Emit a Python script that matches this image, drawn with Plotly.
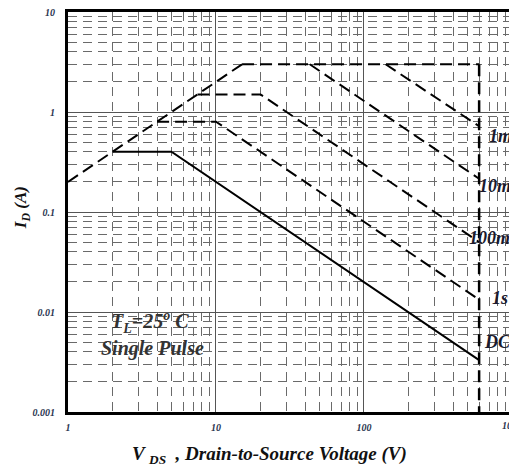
import math
import plotly.graph_objects as go

# ---- data (SOA curves) ----
v_rds = [1, 15]
i_rds = [0.2, 3]

v_top = [15, 600]
i_top = [3, 3]

v_bv = [600, 600]
i_bv = [3, 0.001]

v_1ms = [140, 600]
i_1ms = [3, 0.72]

v_10ms = [43, 600]
i_10ms = [3, 0.215]

v_100ms = [7.5, 20, 600]
i_100ms = [1.5, 1.5, 0.05]

v_1s = [4, 10, 600]
i_1s = [0.8, 0.8, 0.0133]

v_dc = [2, 5, 600]
i_dc = [0.4, 0.4, 0.0033]

y_tickvals = [0.001, 0.01, 0.1, 1, 10]
y_ticktext = ["0.001", "0.01", "0.1", "1", "10"]
x_tickvals = [1, 10, 100]
x_ticktext = ["1", "10", "100"]

curve_labels = ["1ms", "10ms", "100ms", "1s", "DC"]
label_x = [677, 580, 497, 710, 627]
label_y = [0.575, 0.182, 0.055, 0.0138, 0.005]

FONT = "Liberation Serif"
DASH = "12px,6px"

fig = go.Figure()

def add(x, y, dash=DASH, width=2):
    fig.add_trace(go.Scatter(x=x, y=y, mode="lines",
                             line=dict(color="black", width=width, dash=dash),
                             showlegend=False, hoverinfo="skip"))

add(v_rds, i_rds)
add(v_top, i_top)
add(v_bv, i_bv, width=2.5)
add(v_1ms, i_1ms)
add(v_10ms, i_10ms)
add(v_100ms, i_100ms)
add(v_1s, i_1s)
add(v_dc, i_dc, dash="solid")

minor_x = [m * 10 ** d for d in range(0, 3) for m in range(2, 10)]
minor_y = [m * 10.0 ** d for d in range(-3, 1) for m in range(2, 10)]

tickfont = dict(family=FONT, size=10, color="#2a3550", weight="bold", style="italic")

fig.update_xaxes(
    type="log", range=[0, 2.98],
    tickmode="array", tickvals=x_tickvals, ticktext=x_ticktext,
    tickfont=tickfont, ticks="", ticklabelstandoff=4,
    showgrid=True, gridcolor="#555555", gridwidth=1.4,
    minor=dict(tickmode="array", tickvals=minor_x, showgrid=True,
               gridcolor="#6a6a6a", gridwidth=1.2, griddash="9px,6px"),
    showline=True, linecolor="black", linewidth=3, mirror=True,
)
fig.update_yaxes(
    type="log", range=[-3, 1],
    tickmode="array", tickvals=y_tickvals, ticktext=y_ticktext,
    tickfont=tickfont, ticks="", ticklabelstandoff=8,
    showgrid=True, gridcolor="#555555", gridwidth=1.4,
    minor=dict(tickmode="array", tickvals=minor_y, showgrid=True,
               gridcolor="#6a6a6a", gridwidth=1.2, griddash="9px,6px"),
    showline=True, linecolor="black", linewidth=3, mirror=False,
)

titlefont = dict(family=FONT, size=19, color="#111111", weight="bold", style="italic")
fig.add_annotation(x=0.458, y=-0.1075, xref="paper", yref="paper",
                   text="V <sub>DS</sub>  , Drain-to-Source Voltage (V)", showarrow=False,
                   xanchor="center", yanchor="middle", font=titlefont)
fig.add_annotation(x=-0.104, y=0.51, xref="paper", yref="paper",
                   text="I<sub>D</sub> (A)", textangle=-90, showarrow=False,
                   xanchor="center", yanchor="middle",
                   font=dict(family=FONT, size=17, color="#111111", weight="bold", style="italic"))

annfont = dict(family=FONT, size=18, color="#1a1a2e", weight="bold", style="italic")
for t, x, y in zip(curve_labels, label_x, label_y):
    fig.add_annotation(x=math.log10(x), y=math.log10(y), xref="x", yref="y",
                       text=t, showarrow=False,
                       xanchor="left", yanchor="middle", font=annfont)

fig.add_annotation(x=math.log10(3.6), y=math.log10(0.0079), xref="x", yref="y",
                   text="T<sub>L</sub>=25<sup>o</sup> C", showarrow=False,
                   xanchor="center", yanchor="middle",
                   font=dict(family=FONT, size=20, color="#333333", weight="bold", style="italic"))
fig.add_annotation(x=math.log10(3.7), y=math.log10(0.0043), xref="x", yref="y",
                   text="Single Pulse", showarrow=False,
                   xanchor="center", yanchor="middle",
                   font=dict(family=FONT, size=20, color="#333333", weight="bold", style="italic"))
fig.add_annotation(x=3 / 2.98, y=0, xref="paper", yref="paper",
                   text="1000", showarrow=False, xanchor="center", yanchor="top",
                   yshift=-6, font=tickfont)

fig.update_layout(
    width=509, height=467,
    margin=dict(l=68, r=0, t=12, b=55),
    paper_bgcolor="white", plot_bgcolor="white",
)

fig.write_html("out.html")
